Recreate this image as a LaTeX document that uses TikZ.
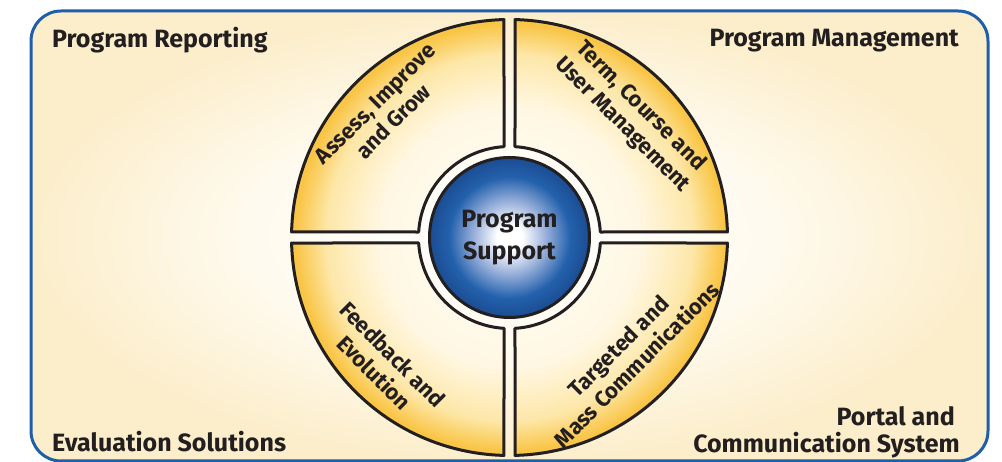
\documentclass[tikz,border=0pt]{standalone}
\usepackage{fontspec}
\setmainfont{Fira Sans}
\usetikzlibrary{calc}
\definecolor{ink}{HTML}{231F20}
\definecolor{frameblue}{HTML}{1F5EA8}
\definecolor{cream}{HTML}{FCEECB}
\definecolor{creamlight}{HTML}{FFFAEE}
\definecolor{qgold}{HTML}{F9C546}
\definecolor{qlight}{HTML}{FDE7A8}
\definecolor{qpale}{HTML}{FFF7E2}
\definecolor{bblue}{HTML}{2361AC}
\definecolor{bmid}{HTML}{9DB3DC}
\definecolor{bdark}{HTML}{1B4C92}
\pgfdeclareradialshading{quadshade}{\pgfpoint{0bp}{0bp}}{color(0bp)=(white); color(15bp)=(qpale); color(21bp)=(qlight); color(24.5bp)=(qgold); color(25bp)=(qgold); color(50bp)=(qgold)}
\pgfdeclareradialshading{blueshade}{\pgfpoint{0bp}{0bp}}{color(0bp)=(white); color(4bp)=(white); color(11bp)=(bmid); color(19bp)=(bblue); color(25bp)=(bdark); color(50bp)=(bdark)}
\pgfdeclareradialshading{frameshade}{\pgfpoint{0bp}{0bp}}{color(0bp)=(white); color(14bp)=(creamlight); color(25bp)=(cream); color(50bp)=(cream)}
\tikzset{
  corner/.style={font=\bfseries\fontsize{25}{27}\selectfont, text=ink, inner sep=0pt},
  quadtext/.style={font=\bfseries\fontsize{22}{26}\selectfont, text=ink, align=center, inner sep=0pt},
  quadline/.style={draw=ink, line width=3pt, line join=round},
  hub/.style={circle, draw=ink, line width=3pt, shading=blueshade, minimum size=160pt, inner sep=0pt,
    font=\bfseries\fontsize{25}{32}\selectfont, text=ink, align=center},
  frame/.style={draw=frameblue, line width=3pt, rounded corners=30pt, shading=frameshade}
}
\begin{document}
\begin{tikzpicture}[x=1pt,y=1pt]
\useasboundingbox (0,0) rectangle (1002,462);
\path[frame] (31,1) rectangle (988,451);
\coordinate (C) at (509.5,224.5);
\def\Ro{218}
\def\Ri{91}
\def\ao{1.45}
\def\ai{3.46}
\foreach \k in {0,1,2,3}{
  \begin{scope}[rotate around={\k*90:(C)}]
    \begin{scope}
      \clip ([shift={(90-\ao:\Ro)}]C) arc[start angle=90-\ao, end angle=\ao, radius=\Ro]
        -- ([shift={(\ai:\Ri)}]C) arc[start angle=\ai, end angle=90-\ai, radius=\Ri] -- cycle;
      \shade[shading=quadshade] (C) circle[radius=\Ro];
    \end{scope}
    \path[quadline] ([shift={(90-\ao:\Ro)}]C) arc[start angle=90-\ao, end angle=\ao, radius=\Ro]
        -- ([shift={(\ai:\Ri)}]C) arc[start angle=\ai, end angle=90-\ai, radius=\Ri] -- cycle;
  \end{scope}
}
\node[hub] (hub) at (C) {Program\\Support};
\node[quadtext, rotate=45] (assess) at ($(C)+(-125,125)$) {Assess, Improve\\and Grow};
\node[quadtext, rotate=-45] (term) at ($(C)+(122,122)$) {Term, Course and\\User Management};
\node[quadtext, rotate=-45] (feedback) at ($(C)+(-126,-126)$) {Feedback and\\Evolution};
\node[quadtext, rotate=45] (targeted) at ($(C)+(118,-118)$) {Targeted and\\Mass Communications};
\node[corner, anchor=base west] (reporting) at (52,414) {Program Reporting};
\node[corner, anchor=base east] (management) at (959,415.3) {Program Management};
\node[corner, anchor=base west] (evaluation) at (52,10.3) {Evaluation Solutions};
\node[corner, anchor=south east, align=right] (portal) at (960,4) {Portal and\hspace*{5pt}\\Communication System};
\end{tikzpicture}
\end{document}
